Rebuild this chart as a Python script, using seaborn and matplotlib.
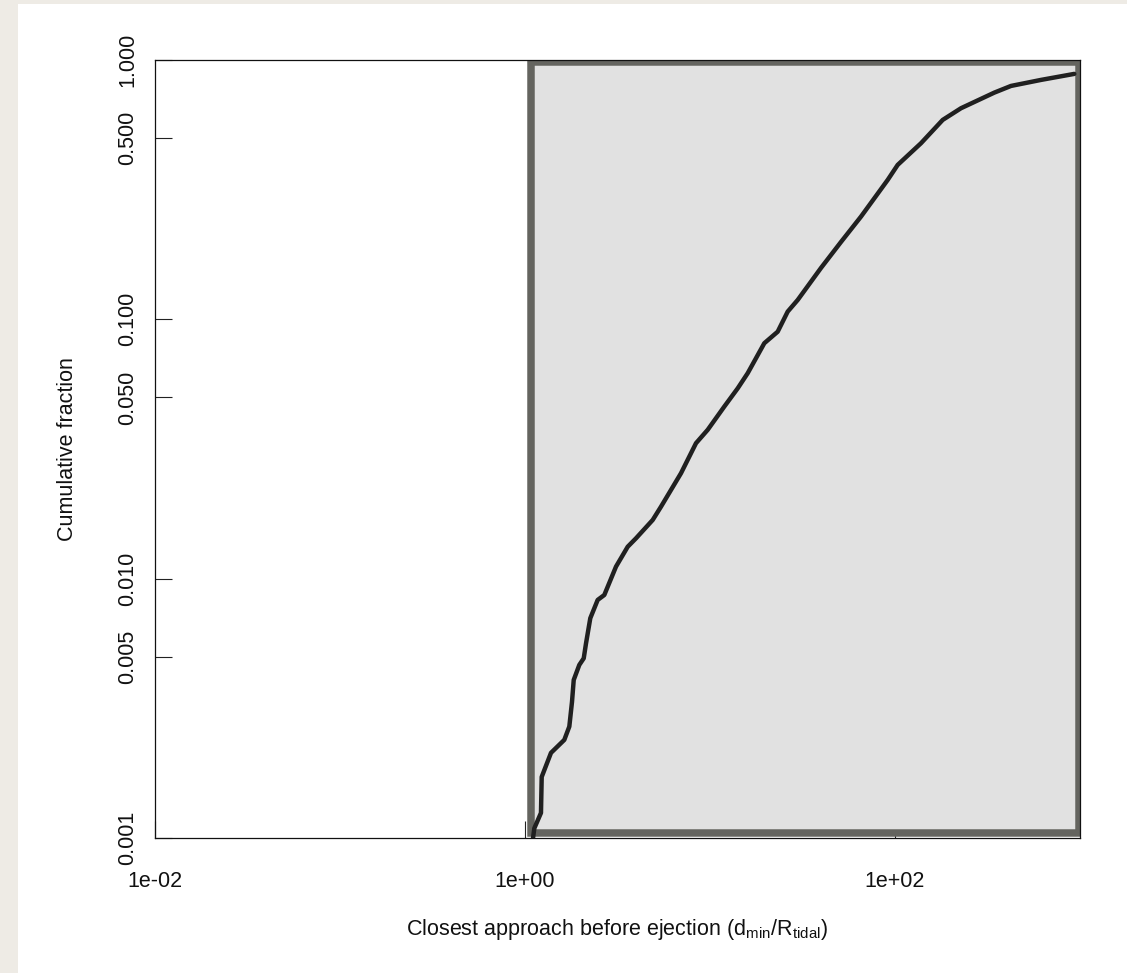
import matplotlib
matplotlib.use("Agg")
import matplotlib.pyplot as plt
from matplotlib.patches import Rectangle
import seaborn as sns
import pandas as pd

# ---- data ----
dmin_ratio = [1.105, 1.123, 1.22, 1.231, 1.382, 1.631, 1.736, 1.795, 1.834, 1.966,
              2.077, 2.137, 2.254, 2.471, 2.683, 3.104, 3.591, 3.981, 4.901, 5.434,
              6.969, 8.401, 9.719, 11.95, 14.12, 15.99, 19.66, 23.22, 26.3, 29.8,
              39.8, 51.07, 65.5, 91.3, 103.4, 138.2, 181.1, 227.4, 344.2, 423.6,
              615.5, 931.5]
cum_fraction = [0.00100, 0.00109, 0.00125, 0.00172, 0.00213, 0.00239, 0.00269, 0.00335,
                0.00407, 0.00465, 0.00493, 0.00563, 0.00704, 0.00828, 0.00865, 0.01113,
                0.01328, 0.01431, 0.01684, 0.01895, 0.0255, 0.0333, 0.0375, 0.0461,
                0.0542, 0.0620, 0.0809, 0.0896, 0.1071, 0.1188, 0.1578, 0.1988,
                0.249, 0.3448, 0.394, 0.4776, 0.5875, 0.6517, 0.7485, 0.7943,
                0.838, 0.884]

x_ticks = [1e-2, 1e0, 1e2]
x_tick_labels = ["1e-02", "1e+00", "1e+02"]
y_ticks = [0.001, 0.005, 0.010, 0.050, 0.100, 0.500, 1.000]
y_tick_labels = ["0.001", "0.005", "0.010", "0.050", "0.100", "0.500", "1.000"]
shade_x = [1.073, 988.0]
shade_y = [0.00105, 0.983]

df = pd.DataFrame({"dmin": dmin_ratio, "frac": cum_fraction})

sns.set_theme(style="white")
plt.rcParams["font.family"] = ["Liberation Sans", "DejaVu Sans"]

fig = plt.figure(figsize=(11.27, 9.73), dpi=100)
# beige frame strips of the reference screenshot
fig.patches.append(Rectangle((0, 0), 18 / 1127, 1, transform=fig.transFigure,
                             facecolor="#eeebe5", edgecolor="none", zorder=-10))
fig.patches.append(Rectangle((0, 1 - 4 / 973), 1, 4 / 973, transform=fig.transFigure,
                             facecolor="#eeebe5", edgecolor="none", zorder=-10))

ax = fig.add_axes([155 / 1127, (973 - 838) / 973, 925 / 1127, 778 / 973])
ax.set_xscale("log")
ax.set_yscale("log")
ax.set_xlim(1e-2, 1e3)
ax.set_ylim(1e-3, 1.0)

ax.add_patch(Rectangle((shade_x[0], shade_y[0]), shade_x[1] - shade_x[0],
                       shade_y[1] - shade_y[0], facecolor="#e1e1e1",
                       edgecolor="#64645f", linewidth=5.4, zorder=1))

sns.lineplot(data=df, x="dmin", y="frac", ax=ax, color="#202020", linewidth=3.2,
             sort=False, estimator=None, zorder=3)

ax.xaxis.set_major_locator(matplotlib.ticker.FixedLocator(x_ticks))
ax.xaxis.set_minor_locator(matplotlib.ticker.NullLocator())
ax.set_xticklabels(x_tick_labels)
ax.yaxis.set_major_locator(matplotlib.ticker.FixedLocator(y_ticks))
ax.yaxis.set_minor_locator(matplotlib.ticker.NullLocator())
ax.set_yticklabels(y_tick_labels, rotation=90, va="center")

ax.tick_params(axis="both", direction="in", length=12, width=0.8, color="#222222",
               labelsize=15.5, labelcolor="#111111", bottom=True, left=True,
               top=False, right=False)
ax.tick_params(axis="x", pad=24)
ax.tick_params(axis="y", pad=12)

for s in ax.spines.values():
    s.set_visible(True)
    s.set_color("#111111")
    s.set_linewidth(0.9)

ax.set_xlabel(r"Closest approach before ejection (d$_{\mathregular{min}}$/R$_{\mathregular{tidal}}$)",
              fontsize=15.5, color="#111111", labelpad=18)
ax.set_ylabel("Cumulative fraction", fontsize=15.5, color="#111111", labelpad=28)
ax.set_facecolor("white")
ax.grid(False)

fig.savefig("out.png", dpi=100, facecolor="white")
